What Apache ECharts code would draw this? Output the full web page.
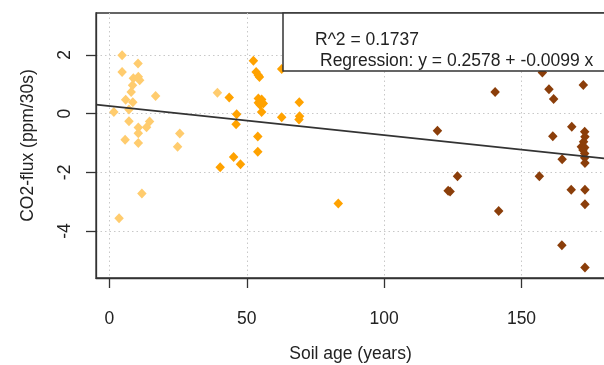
<!DOCTYPE html>
<html>
<head>
<meta charset="utf-8">
<script src="https://cdn.jsdelivr.net/npm/echarts@6/dist/echarts.min.js"></script>
<style>html,body{margin:0;padding:0;background:#fff;}#c{width:604px;height:365px;}</style>
</head>
<body>
<div id="c"></div>
<script>
// Soil age (years), CO2-flux (ppm/30s)
const youngSoils = [
  [1.6, 0.06], [3.5, -3.56], [4.6, 1.99], [4.6, 1.42], [5.7, -0.89], [5.9, 0.47],
  [7.1, 0.14], [7.1, -0.26], [7.9, 0.74], [8.4, 0.97], [8.5, 0.39], [8.7, 1.21],
  [10.4, 1.71], [10.5, 1.26], [11.0, 1.14], [10.5, -0.47], [10.5, -0.67], [10.5, -1.0],
  [11.8, -2.72], [13.5, -0.46], [14.6, -0.27], [16.8, 0.6], [24.8, -1.13], [25.6, -0.68],
  [39.3, 0.71]
];
const midSoils = [
  [40.3, -1.83], [43.6, 0.55], [45.2, -1.48], [46.3, -0.02], [46.1, -0.36], [47.7, -1.72],
  [52.4, 1.8], [53.4, 1.42], [54.2, 1.31], [54.6, 1.25], [54.2, 0.52], [55.4, 0.48],
  [54.2, 0.37], [56.0, 0.35], [54.8, 0.30], [55.4, 0.06], [54.0, -0.78], [54.0, -1.3],
  [62.7, 1.52], [62.7, -0.12], [69.1, 0.39], [69.2, -0.09], [69.0, -0.2], [83.3, -3.06]
];
const oldSoils = [
  [119.4, -0.58], [123.3, -2.63], [124.0, -2.65], [126.7, -2.13], [140.4, 0.74], [141.7, -3.32],
  [156.5, -2.13], [157.6, 1.4], [160.0, 0.83], [161.4, -0.77], [161.7, 0.5], [164.8, -1.55],
  [164.7, -4.48], [168.3, -0.45], [168.1, -2.59], [172.5, 0.98], [173.0, -0.62], [173.1, -0.79],
  [172.6, -0.96], [171.8, -1.13], [173.0, -1.15], [172.4, -1.24], [173.0, -1.36], [173.0, -1.5],
  [173.1, -1.68], [173.1, -2.59], [173.1, -3.09], [173.1, -5.24]
];
const xTicks = [0, 50, 100, 150];
const yTicks = [-4, -2, 0, 2];
const regIntercept = 0.2578;
const regSlope = -0.0099;
const rSquared = 0.1737;

const xMin = -4.9, xMax = 180.4, yMin = -5.6, yMax = 3.43;
const regLine = [[xMin, regIntercept + regSlope * xMin], [xMax, regIntercept + regSlope * xMax]];

const FONT = "'Liberation Sans', Arial, sans-serif";
const FS = 17.5;
const chart = echarts.init(document.getElementById('c'), null, {renderer: 'canvas'});
const diamond = [9.5, 10];
chart.setOption({
  animation: false,
  backgroundColor: '#ffffff',
  grid: {left: 96, right: -1, top: 13, bottom: 87, outerBoundsMode: 'none', containLabel: false,
         show: true, borderColor: '#333', borderWidth: 1.3, backgroundColor: 'transparent'},
  xAxis: {
    type: 'value', min: xMin, max: xMax, splitNumber: 4, minInterval: 50, maxInterval: 50,
    name: 'Soil age (years)', nameLocation: 'middle', nameGap: 67,
    nameTextStyle: {fontFamily: FONT, fontSize: FS, color: '#222'},
    axisLine: {show: true, onZero: false, lineStyle: {color: '#333', width: 1.3}},
    axisTick: {show: true, customValues: xTicks, length: 10, lineStyle: {color: '#333', width: 1.3}},
    axisLabel: {customValues: xTicks, margin: 32, fontFamily: FONT, fontSize: FS, color: '#222'},
    splitLine: {show: true, lineStyle: {color: '#c8c8c8', type: [1.5, 3], width: 1}}
  },
  yAxis: {
    type: 'value', min: yMin, max: yMax, splitNumber: 4, minInterval: 2, maxInterval: 2,
    name: 'CO2-flux (ppm/30s)', nameLocation: 'middle', nameGap: 59,
    nameTextStyle: {fontFamily: FONT, fontSize: FS, color: '#222'},
    axisLine: {show: true, onZero: false, lineStyle: {color: '#333', width: 1.3}},
    axisTick: {show: true, customValues: yTicks, length: 10, lineStyle: {color: '#333', width: 1.3}},
    axisLabel: {customValues: yTicks, rotate: 90, margin: 22, fontFamily: FONT, fontSize: FS, color: '#222'},
    splitLine: {show: true, lineStyle: {color: '#c8c8c8', type: [1.5, 3], width: 1}}
  },
  series: [
    {type: 'scatter', name: 'young', data: youngSoils, symbol: 'diamond', symbolSize: diamond, itemStyle: {color: '#FFCC6E', opacity: 1}, z: 2},
    {type: 'scatter', name: 'mid', data: midSoils, symbol: 'diamond', symbolSize: diamond, itemStyle: {color: '#FFA200', opacity: 1}, z: 2},
    {type: 'scatter', name: 'old', data: oldSoils, symbol: 'diamond', symbolSize: diamond, itemStyle: {color: '#8B3E0A', opacity: 1}, z: 2},
    {type: 'line', name: 'regression', data: regLine, symbol: 'none', silent: true, lineStyle: {color: '#333', width: 1.6}, z: 3}
  ],
  graphic: [
    {type: 'rect', shape: {x: 283, y: 13, width: 340, height: 58}, style: {fill: '#fff', stroke: '#333', lineWidth: 1.5}, z: 100},
    {type: 'text', x: 315, y: 40, style: {text: 'R^2 = ' + rSquared, font: FS + 'px ' + FONT, fill: '#222', textVerticalAlign: 'middle'}, z: 101},
    {type: 'text', x: 320, y: 61.5, style: {text: 'Regression: y = ' + regIntercept + ' + ' + regSlope + ' x', font: FS + 'px ' + FONT, fill: '#222', textVerticalAlign: 'middle'}, z: 101}
  ]
});
</script>
</body>
</html>
